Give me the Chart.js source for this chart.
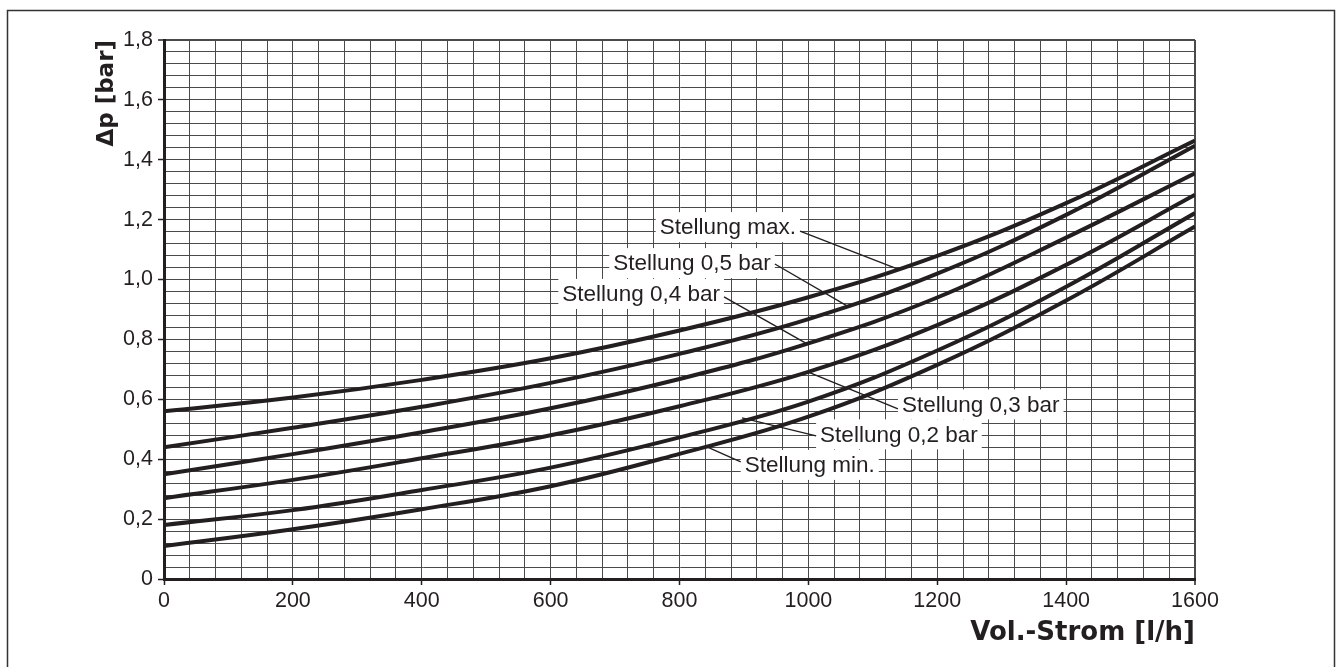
<!DOCTYPE html>
<html>
<head>
<meta charset="utf-8">
<script src="https://cdn.jsdelivr.net/npm/chart.js@4.4.1/dist/chart.umd.min.js"></script>
<style>
html,body{margin:0;padding:0;background:#fff;}
canvas{display:block;}
</style>
</head>
<body>
<canvas id="c" width="1338" height="667"></canvas>
<script>
// ---- data ----
const flow = [0, 200, 400, 600, 800, 1000, 1200, 1400, 1600]; // l/h
const stellungMax = [0.56, 0.606, 0.665, 0.737, 0.830, 0.941, 1.079, 1.255, 1.464];
const stellung05  = [0.44, 0.505, 0.575, 0.655, 0.752, 0.868, 1.020, 1.216, 1.447];
const stellung04  = [0.35, 0.417, 0.490, 0.570, 0.668, 0.787, 0.940, 1.140, 1.355];
const stellung03  = [0.27, 0.331, 0.403, 0.480, 0.577, 0.692, 0.848, 1.049, 1.283];
const stellung02  = [0.18, 0.230, 0.297, 0.372, 0.473, 0.592, 0.763, 0.976, 1.222];
const stellungMin = [0.11, 0.166, 0.233, 0.310, 0.418, 0.542, 0.715, 0.930, 1.177];
const seriesNames = ['Stellung max.', 'Stellung 0,5 bar', 'Stellung 0,4 bar', 'Stellung 0,3 bar', 'Stellung 0,2 bar', 'Stellung min.'];
const xTickStep = 40, xLabelStep = 200;
const yTickStep = 0.04, yLabelStep = 0.2;
const xTitle = 'Vol.-Strom [l/h]';
const yTitle = 'Δp [bar]';
// label annotations: text anchor (data coords) and leader end on the curve (data coords)
const labelAnchorX = [987, 948, 869, 1139, 1012, 895];
const labelAnchorY = [1.175, 1.055, 0.952, 0.583, 0.483, 0.381];
const labelSide    = ['right', 'right', 'right', 'left', 'left', 'left'];
const leaderEndX   = [1139, 1060, 998, 1000, 897, 840];
const leaderEndY   = [1.035, 0.912, 0.785, 0.691, 0.538, 0.444];
const leaderStartY = [1.162, 1.052, 0.942, 0.568, 0.478, 0.391];

const allSeries = [stellungMax, stellung05, stellung04, stellung03, stellung02, stellungMin];
const INK = '#231f20';

function isMult(v, step){ const r = v/step; return Math.abs(r - Math.round(r)) < 1e-6; }

const labelPlugin = {
  id: 'labels',
  afterDatasetsDraw(chart){
    const {ctx, scales:{x, y}} = chart;
    ctx.save();
    ctx.font = '22.5px "Liberation Sans", Arial, sans-serif';
    ctx.textBaseline = 'middle';
    for (let i = 0; i < seriesNames.length; i++){
      const ax = x.getPixelForValue(labelAnchorX[i]);
      const ay = y.getPixelForValue(labelAnchorY[i]);
      const sy = y.getPixelForValue(leaderStartY[i]);
      const ex = x.getPixelForValue(leaderEndX[i]);
      const ey = y.getPixelForValue(leaderEndY[i]);
      const w = ctx.measureText(seriesNames[i]).width;
      const pad = 4;
      let tx = labelSide[i] === 'right' ? ax - pad - w : ax + pad;
      ctx.fillStyle = '#fff';
      ctx.fillRect(tx - pad, ay - 15, w + 2*pad, 30);
      ctx.fillStyle = INK;
      ctx.textAlign = 'left';
      ctx.fillText(seriesNames[i], tx, ay + 1);
      ctx.strokeStyle = INK;
      ctx.lineWidth = 1.4;
      ctx.beginPath();
      ctx.moveTo(ax, sy);
      ctx.lineTo(ex, ey);
      ctx.stroke();
    }
    ctx.restore();
  },
  afterDraw(chart){
    const ctx = chart.ctx;
    ctx.save();
    ctx.strokeStyle = '#333';
    ctx.lineWidth = 1.5;
    ctx.strokeRect(7.5, 10.5, 1327, 700);
    ctx.restore();
  }
};

const datasets = allSeries.map((s, i) => ({
  label: seriesNames[i],
  data: flow.map((q, k) => ({x: q, y: s[k]})),
  borderColor: INK,
  borderWidth: 4,
  pointRadius: 0,
  tension: 0.4,
  fill: false
}));

new Chart(document.getElementById('c'), {
  type: 'line',
  data: {datasets},
  options: {
    responsive: false,
    devicePixelRatio: 1,
    animation: false,
    layout: {padding: {left: 0, top: 40, right: 143, bottom: 0}},
    plugins: {legend: {display: false}, tooltip: {enabled: false}},
    scales: {
      x: {
        type: 'linear', min: 0, max: 1600,
        afterFit(s){ s.height = 88; },
        border: {display: true, color: INK, width: 3},
        grid: {
          color: '#4a4a4a',
          lineWidth: c => (c.tick && c.tick.value === 1600) ? 2 : 1,
          drawTicks: true, tickLength: 6, tickWidth: 1.5,
          tickColor: c => (c.tick && isMult(c.tick.value, xLabelStep)) ? INK : 'rgba(0,0,0,0)'
        },
        ticks: {
          stepSize: xTickStep, autoSkip: false, maxRotation: 0, padding: 3,
          color: INK,
          font: {family: '"Liberation Sans", Arial, sans-serif', size: 21.5},
          callback: v => isMult(v, xLabelStep) ? String(Math.round(v)) : ''
        },
        title: {
          display: true, text: xTitle, align: 'end', color: INK,
          font: {family: '"DejaVu Sans", sans-serif', size: 26, weight: 'bold'},
          padding: {top: 0, bottom: 18}
        }
      },
      y: {
        type: 'linear', min: 0, max: 1.8,
        afterFit(s){ s.width = 164; },
        border: {display: true, color: INK, width: 3},
        grid: {
          color: '#4a4a4a',
          lineWidth: c => (c.tick && Math.abs(c.tick.value - 1.8) < 1e-6) ? 2 : 1,
          drawTicks: true, tickLength: 6, tickWidth: 1.5,
          tickColor: c => (c.tick && isMult(c.tick.value, yLabelStep)) ? INK : 'rgba(0,0,0,0)'
        },
        ticks: {
          stepSize: yTickStep, autoSkip: false, padding: 5,
          color: INK,
          font: {family: '"Liberation Sans", Arial, sans-serif', size: 21.5},
          callback: v => isMult(v, yLabelStep) ? (Math.abs(v) < 1e-9 ? '0' : v.toFixed(1).replace('.', ',')) : ''
        },
        title: {
          display: true, text: yTitle, align: 'end', color: INK,
          font: {family: '"DejaVu Sans", sans-serif', size: 23, weight: 'bold'},
          padding: {top: 93, bottom: 0}
        }
      }
    }
  },
  plugins: [labelPlugin]
});
</script>
</body>
</html>
